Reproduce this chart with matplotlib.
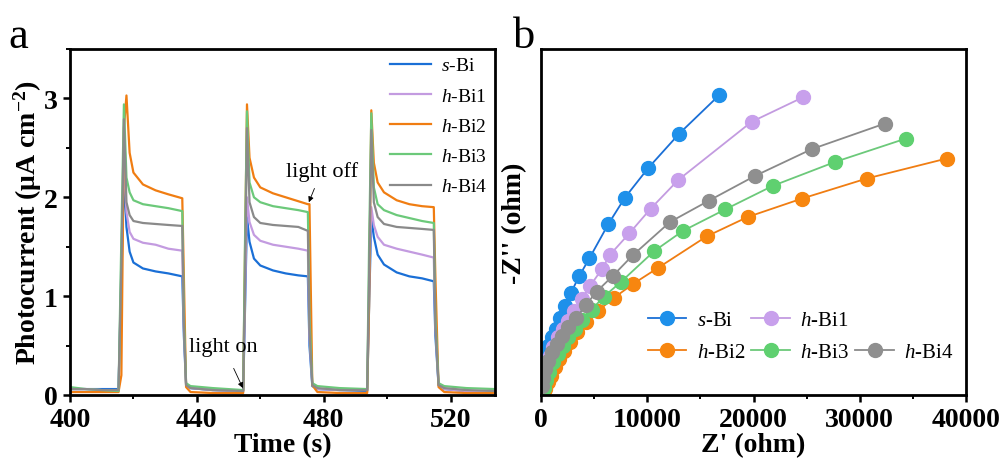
import numpy as np
import matplotlib.pyplot as plt
from matplotlib.lines import Line2D
from matplotlib.ticker import MultipleLocator

plt.rcParams['font.family'] = ['Liberation Serif', 'DejaVu Serif']
plt.rcParams['mathtext.fontset'] = 'custom'
plt.rcParams['mathtext.it'] = 'Liberation Serif:italic'
plt.rcParams['mathtext.rm'] = 'Liberation Serif'
plt.rcParams['mathtext.bf'] = 'Liberation Serif:bold'

# ---- panel a: photocurrent vs time ----
time_s = [400, 405, 410, 415.3, 416.2, 417.0, 417.8, 418.8, 420, 423, 427, 431, 435.4, 435.9, 436.6, 438, 445,
          454.6, 455.2, 455.8, 456.6, 458, 460, 464, 468, 472, 475.0, 475.5, 476.4, 478, 485,
          493.7, 494.3, 495.0, 495.8, 497, 499, 503, 507, 511, 514.7, 515.2, 516.2, 518, 525, 534]

cur_sbi = [0.06, 0.06, 0.06, 0.06, 1.20, 2.20, 1.70, 1.45, 1.34, 1.28, 1.25, 1.23, 1.20, 0.60, 0.10, 0.07, 0.05,
           0.04, 0.90, 1.80, 1.55, 1.38, 1.31, 1.26, 1.23, 1.21, 1.20, 0.50, 0.09, 0.06, 0.05,
           0.04, 0.90, 1.80, 1.60, 1.42, 1.32, 1.24, 1.20, 1.18, 1.15, 0.60, 0.10, 0.06, 0.04, 0.03]
cur_hbi1 = [0.06, 0.06, 0.05, 0.05, 1.40, 2.40, 1.85, 1.65, 1.58, 1.54, 1.52, 1.48, 1.46, 0.70, 0.11, 0.07, 0.05,
            0.04, 1.00, 2.00, 1.75, 1.62, 1.56, 1.52, 1.50, 1.48, 1.46, 0.60, 0.10, 0.06, 0.05,
            0.05, 1.10, 1.90, 1.72, 1.60, 1.52, 1.48, 1.45, 1.42, 1.39, 0.70, 0.11, 0.06, 0.04, 0.03]
cur_hbi2 = [0.03, 0.03, 0.03, 0.03, 0.20, 2.70, 3.03, 2.45, 2.25, 2.13, 2.07, 2.03, 1.99, 1.20, 0.08, 0.03, 0.02,
            0.02, 1.50, 2.94, 2.40, 2.20, 2.10, 2.04, 2.00, 1.96, 1.93, 1.93, 0.10, 0.03, 0.02,
            0.02, 0.90, 2.88, 2.35, 2.15, 2.05, 1.97, 1.93, 1.91, 1.90, 1.20, 0.08, 0.03, 0.02, 0.02]
cur_hbi3 = [0.08, 0.06, 0.05, 0.04, 1.60, 2.94, 2.20, 2.05, 1.97, 1.93, 1.91, 1.89, 1.86, 0.80, 0.12, 0.09, 0.07,
            0.05, 1.60, 2.87, 2.15, 2.00, 1.95, 1.91, 1.89, 1.87, 1.85, 0.80, 0.12, 0.09, 0.07,
            0.06, 1.50, 2.85, 2.10, 1.93, 1.87, 1.82, 1.79, 1.76, 1.74, 0.80, 0.12, 0.09, 0.07, 0.06]
cur_hbi4 = [0.06, 0.06, 0.05, 0.05, 1.30, 2.79, 1.95, 1.82, 1.76, 1.74, 1.73, 1.72, 1.71, 0.70, 0.10, 0.07, 0.05,
            0.04, 1.20, 2.70, 1.95, 1.80, 1.74, 1.72, 1.71, 1.70, 1.66, 0.65, 0.10, 0.07, 0.05,
            0.05, 1.20, 2.68, 1.95, 1.80, 1.73, 1.70, 1.69, 1.68, 1.67, 0.70, 0.10, 0.07, 0.05, 0.04]

# ---- panel b: Nyquist plot ----
zre_sbi = [16780, 13020, 10100, 7900, 6340, 4550, 3580, 2820, 2260, 1790, 1380, 1000, 690, 470, 220, 120, 60, 20]
zim_sbi = [28170, 24560, 21330, 18540, 16060, 12830, 11140, 9600, 8340, 7250, 6210, 5430, 4640, 3860, 3080, 2300, 1500, 700]
zre_hbi1 = [24690, 19820, 12920, 10320, 8310, 6490, 5710, 4610, 3830, 3100, 2570, 2100, 1630, 1160, 850, 530, 300, 120, 30]
zim_hbi1 = [27980, 25660, 20200, 17500, 15180, 13170, 11790, 10230, 9030, 7930, 6990, 6210, 5430, 4490, 3700, 2760, 1900, 1100, 400]
zre_hbi2 = [38170, 30640, 24530, 19450, 15590, 10980, 8690, 6870, 5400, 4240, 3360, 2730, 2200, 1730, 1320, 910, 620, 380, 200]
zim_hbi2 = [22210, 20330, 18440, 16720, 14900, 11920, 10450, 9130, 7930, 6900, 5900, 4960, 4170, 3390, 2610, 1820, 1200, 600, 150]
zre_hbi3 = [34350, 27670, 21800, 17350, 13330, 10660, 7500, 5930, 4770, 3830, 3200, 2570, 2100, 1630, 1160, 790, 500, 280, 120]
zim_hbi3 = [24090, 21890, 19640, 17440, 15400, 13520, 10600, 9250, 8030, 7090, 6210, 5430, 4640, 3860, 3080, 2130, 1400, 700, 200]
zre_hbi4 = [32370, 25470, 20140, 15810, 12140, 8620, 6740, 5240, 4240, 3290, 2570, 1950, 1480, 1000, 690, 380, 200, 80]
zim_hbi4 = [25500, 23090, 20580, 18260, 16250, 13110, 11170, 9720, 8470, 7220, 6370, 5580, 4800, 4020, 3230, 2450, 1600, 800]

labels = [r'$\mathit{s}$-Bi', r'$\mathit{h}$-Bi1', r'$\mathit{h}$-Bi2', r'$\mathit{h}$-Bi3', r'$\mathit{h}$-Bi4']
line_colors = ['#1a6fd6', '#c39be0', '#f07d12', '#6cc97a', '#8a8a8a']
dot_colors = ['#1e90ea', '#c8a0ec', '#f7860f', '#5fd070', '#8f8f8f']

fig = plt.figure(figsize=(10.03, 4.64), dpi=100)
ax1 = fig.add_axes([70 / 1003, 68 / 464, 425 / 1003, 346 / 464])
ax2 = fig.add_axes([541 / 1003, 68 / 464, 425 / 1003, 346 / 464])

currents = [cur_sbi, cur_hbi1, cur_hbi2, cur_hbi3, cur_hbi4]
for cur, c, lab in zip(currents, line_colors, labels):
    ax1.plot(time_s, cur, color=c, lw=1.6, label=lab)

ax1.set_xlim(400, 534)
ax1.set_ylim(0, 3.5)
ax1.set_xticks([400, 440, 480, 520])
ax1.set_yticks([0, 1, 2, 3])
ax1.xaxis.set_minor_locator(MultipleLocator(20))
ax1.yaxis.set_minor_locator(MultipleLocator(0.5))
ax1.set_xlabel('Time (s)', fontsize=20, fontweight='bold', labelpad=0)
ax1.set_ylabel(r'Photocurrent ($\mathbf{\mu}$A cm$^{\mathbf{-2}}$)', fontsize=20, fontweight='bold', labelpad=0)
ax1.legend(loc='upper right', frameon=False, fontsize=14, handlelength=2.1, handletextpad=0.5,
           labelspacing=0.65, borderaxespad=0.0)

ax1.annotate('light on', xy=(454.5, 0.07), xytext=(437.5, 0.45), fontsize=16,
             arrowprops=dict(arrowstyle='-|>', color='black', lw=0.6, mutation_scale=8, shrinkA=8, shrinkB=0))
ax1.annotate('light off', xy=(475.3, 1.95), xytext=(468.0, 2.22), fontsize=16,
             arrowprops=dict(arrowstyle='-|>', color='black', lw=0.6, mutation_scale=8, shrinkA=4, shrinkB=0))

z_re = [zre_sbi, zre_hbi1, zre_hbi2, zre_hbi3, zre_hbi4]
z_im = [zim_sbi, zim_hbi1, zim_hbi2, zim_hbi3, zim_hbi4]
handles = []
for xs, ys, lc, dc, lab in zip(z_re, z_im, line_colors, dot_colors, labels):
    h, = ax2.plot(xs, ys, color=lc, lw=1.3, marker='o', ms=10, mfc=dc, mec=dc, label=lab)
    handles.append(h)

ax2.set_xlim(0, 40000)
ax2.set_ylim(0, 32500)
ax2.set_xticks([0, 10000, 20000, 30000, 40000])
ax2.set_yticks([])
ax2.xaxis.set_minor_locator(MultipleLocator(5000))
ax2.set_xlabel("Z' (ohm)", fontsize=20, fontweight='bold', labelpad=0)
ax2.set_ylabel("-Z'' (ohm)", fontsize=20, fontweight='bold', labelpad=10)
blank = Line2D([], [], linestyle='none')
ax2.legend([handles[0], handles[2], handles[1], handles[3], blank, handles[4]],
           [labels[0], labels[2], labels[1], labels[3], '', labels[4]],
           ncol=3, loc='lower left', bbox_to_anchor=(0.207, 0.04), frameon=False, fontsize=15,
           handlelength=1.85, handletextpad=0.5, columnspacing=0.3, labelspacing=0.6)

for ax in (ax1, ax2):
    for sp in ax.spines.values():
        sp.set_linewidth(2.0)
    ax.tick_params(which='major', direction='out', length=5, width=1.8, labelsize=20)
    ax.tick_params(which='minor', direction='out', length=3, width=1.4)
    ax.tick_params(axis='x', which='major', pad=4)
    ax.tick_params(axis='y', which='major', pad=4)
    for t in ax.get_xticklabels() + ax.get_yticklabels():
        t.set_fontweight('bold')

fig.text(8 / 1003, 1 - 48 / 464, 'a', fontsize=32)
fig.text(513 / 1003, 1 - 48 / 464, 'b', fontsize=32)

fig.savefig('out.png', dpi=100)
